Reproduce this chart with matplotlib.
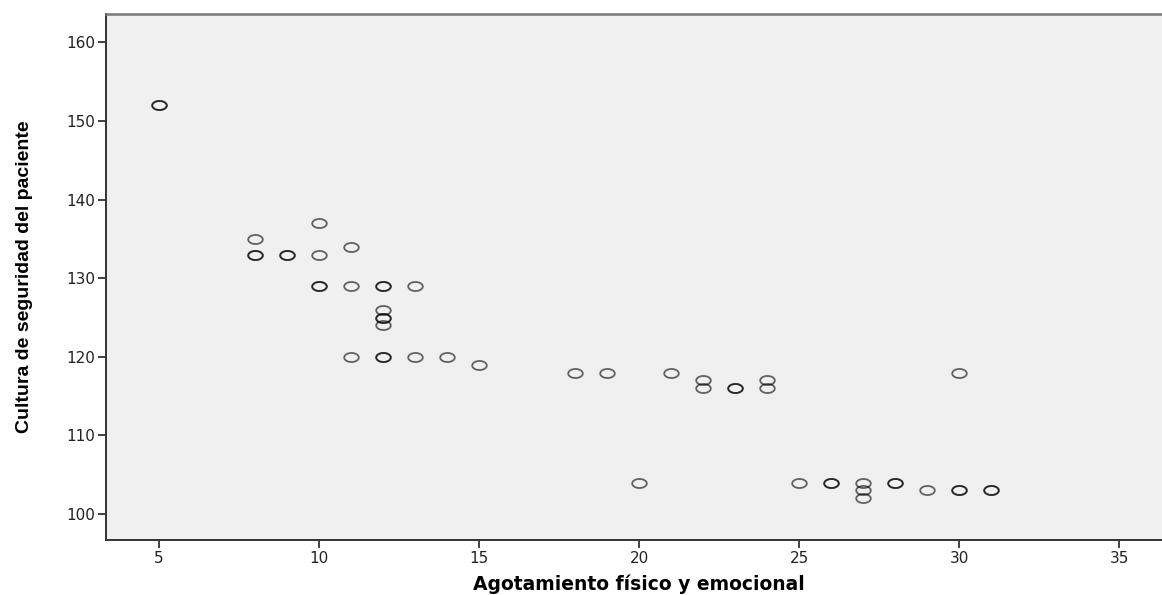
import numpy as np
import matplotlib
matplotlib.use("Agg")
import matplotlib.pyplot as plt
from matplotlib.path import Path

# Agotamiento fisico y emocional (x) vs Cultura de seguridad del paciente (y)
# repeated pairs = overlapping cases (drawn darker)
agotamiento = [5, 5,
               8, 8, 8, 9, 9,
               10, 10, 10, 10,
               11, 11, 11,
               12, 12, 12, 12, 12, 12, 12, 12,
               13, 13, 14, 15, 18, 19, 20, 21,
               22, 22, 23, 23, 24, 24,
               25, 26, 26, 27, 27, 27, 28, 28, 29,
               30, 30, 30, 31, 31]
cultura = [152, 152,
           135, 133, 133, 133, 133,
           137, 133, 129, 129,
           134, 129, 120,
           129, 129, 126, 125, 125, 124, 120, 120,
           129, 120, 120, 119, 118, 118, 104, 118,
           117, 116, 116, 116, 117, 116,
           104, 104, 104, 104, 103, 102, 104, 104, 103,
           118, 103, 103, 103, 103]

x_ticks = [5, 10, 15, 20, 25, 30, 35]
y_ticks = [100, 110, 120, 130, 140, 150, 160]

# flat ellipse marker like SPSS
t = np.linspace(0, 2 * np.pi, 60)
ellipse = Path(np.column_stack([np.cos(t), 0.62 * np.sin(t)]), closed=True)

fig = plt.figure(figsize=(11.62, 5.95), dpi=100)
ax = fig.add_axes([0.0912, 0.0924, 0.9088, 0.884])
ax.set_facecolor("#f0f0f0")

ax.plot(agotamiento, cultura, linestyle="none", marker=ellipse, markersize=10.5,
        markerfacecolor="none", markeredgecolor="black", markeredgewidth=1.3,
        alpha=0.6)

ax.set_xlim(3.34, 36.34)
ax.set_ylim(96.7, 163.6)
ax.set_xticks(x_ticks)
ax.set_yticks(y_ticks)
ax.tick_params(axis="both", direction="out", length=6, width=1.3, color="#333333",
               labelsize=11, labelcolor="#222222", pad=2)

for side in ["left", "bottom"]:
    ax.spines[side].set_color("#333333")
    ax.spines[side].set_linewidth(1.4)
ax.spines["top"].set_color("#777777")
ax.spines["top"].set_linewidth(1.8)
ax.spines["right"].set_visible(False)

ax.set_xlabel("Agotamiento físico y emocional", fontsize=13.5, fontweight="bold")
ax.xaxis.set_label_coords(0.505, -0.066)
ax.set_ylabel("Cultura de seguridad del paciente", fontsize=14, fontweight="bold",
              family=["Liberation Sans", "DejaVu Sans"])
ax.yaxis.set_label_coords(-0.069, 0.5)

plt.savefig("out.png", dpi=100)
